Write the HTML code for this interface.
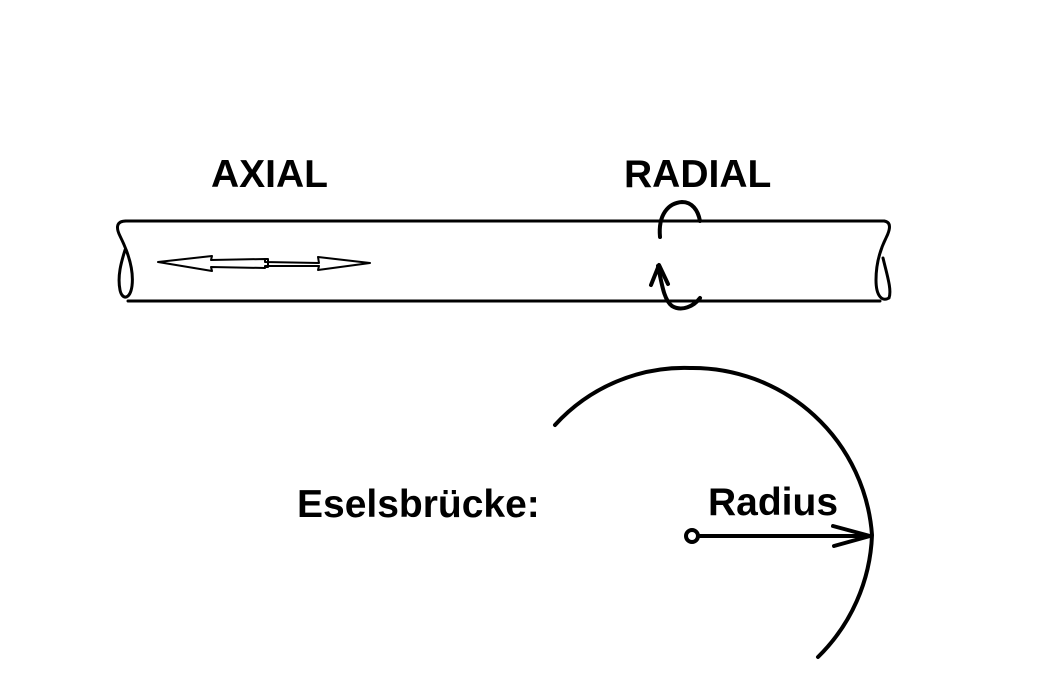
<!DOCTYPE html>
<html><head><style>
html,body{margin:0;padding:0;background:#fff;}
svg{display:block}
text{font-family:"Liberation Sans",Arial,sans-serif;font-weight:bold;font-size:39px;fill:#000}
</style></head><body>
<svg width="1038" height="694" viewBox="0 0 1038 694">
<text x="211" y="187">AXIAL</text>
<text x="624" y="187">RADIAL</text>
<text x="297" y="517">Eselsbrücke:</text>
<text x="708" y="515">Radius</text>
<g fill="none" stroke="#000" stroke-width="3" stroke-linecap="round" stroke-linejoin="round">
<!-- tube -->
<path d="M126 221 L884 221"/>
<path d="M128 301 L880 301"/>
<path d="M126 221 C116 221 116 228 120 236 C128 252 134 270 132 286 C130 300 122 300 120 290 C117 275 122 260 125 250"/>
<path d="M884 221 C892 222 890 230 886 238 C880 250 876 265 876 280 C876 296 882 302 889 298 C892 290 887 275 883 258"/>
<!-- axial double arrow -->
<path d="M158 262 L212 256 L211 260 L265 259 L265 262 L319 263 L318 257 L370 263 L318 270 L319 266 L265 266 L265 268 L211 267 L212 271 Z" stroke-width="2"/>
<path d="M265 259 L268 259 L268 267 L265 267" stroke-width="2"/>
<!-- radial rotation -->
<g stroke-width="4">
<path d="M660 237 C658 215 668 203 682 202 C692 202 698 210 700 221"/>
<path d="M658 266 C662 285 664 300 672 306 C682 312 694 306 700 298"/>
<path d="M651 285 L659 265 L668 284"/>
</g>
<!-- big arc -->
<path d="M555 425 A175 175 0 0 1 690 368 A180 180 0 0 1 872 535 A180 180 0 0 1 818 657" stroke-width="4"/>
<!-- radius -->
<circle cx="692" cy="536" r="6" stroke-width="4"/>
<path d="M698 536 L870 536" stroke-width="4"/>
<path d="M833 526 L870 536 L834 546" stroke-width="4"/>
</g>
</svg>
</body></html>
